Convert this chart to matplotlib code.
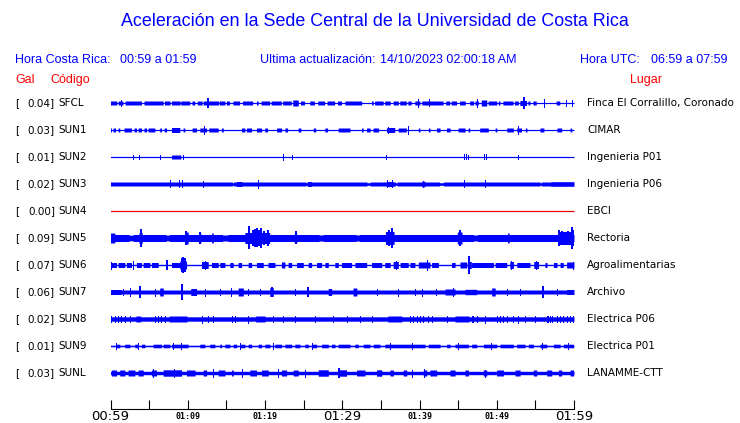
import numpy as np
import matplotlib
matplotlib.use("Agg")
import matplotlib.pyplot as plt

# station list, top to bottom
codes = ["SFCL", "SUN1", "SUN2", "SUN3", "SUN4", "SUN5", "SUN6", "SUN7", "SUN8", "SUN9", "SUNL"]
gal = [0.04, 0.03, 0.01, 0.02, 0.00, 0.09, 0.07, 0.06, 0.02, 0.01, 0.03]
places = ["Finca El Corralillo, Coronado", "CIMAR", "Ingenieria P01", "Ingenieria P06", "EBCI",
          "Rectoria", "Agroalimentarias", "Archivo", "Electrica P06", "Electrica P01", "LANAMME-CTT"]

# trace envelopes (minutes after 00:59, half height in px)
# base = quiet level, seg = (t0, t1, h) stretches, spk = (t, h) single spikes
sfcl_base = 0.6
sfcl_seg = [(0, 0.8, 2), (1.0, 1.6, 2), (1.9, 4.0, 2), (4.35, 6.8, 2), (7.0, 7.7, 2), (7.9, 9.0, 2),
            (9.1, 10.25, 2), (10.55, 10.9, 2), (11.25, 11.85, 2), (12.0, 14.0, 2), (14.1, 14.8, 2),
            (15.0, 15.4, 2), (15.85, 16.7, 2), (17.1, 18.4, 2), (18.9, 19.1, 2), (19.5, 20.6, 2),
            (20.8, 22.1, 2), (22.3, 23.4, 2), (23.6, 24.3, 3), (24.6, 25.1, 2), (25.8, 26.4, 2),
            (26.85, 27.7, 2), (28.05, 29.0, 2), (29.4, 29.9, 2), (30.35, 32.5, 2), (33.8, 34.0, 2),
            (34.2, 35.3, 2), (35.5, 36.2, 2), (36.6, 37.25, 2), (37.45, 38.3, 2), (38.5, 38.9, 2),
            (39.4, 40.05, 2), (40.3, 43.05, 2), (43.4, 43.9, 2), (44.1, 44.8, 2), (45.2, 45.9, 2),
            (46.5, 47.0, 2), (47.2, 47.6, 2), (48.0, 48.7, 3), (48.9, 50.0, 2), (50.2, 50.4, 2),
            (50.8, 52.1, 2), (52.3, 52.8, 2), (53.0, 53.85, 2.5), (54.05, 54.3, 2), (54.7, 55.1, 2),
            (57.7, 58.15, 2)]
sfcl_spk = [(1.3, 3), (12.6, 5), (39.8, 4), (41.25, 3.5), (47.4, 4), (53.55, 6), (56.1, 4),
            (59.0, 3), (59.75, 3)]

sun1_base = 0.6
sun1_seg = [(0, 0.12, 2), (0.34, 0.64, 2), (0.99, 1.2, 2), (1.76, 2.71, 2), (3.06, 3.36, 2),
            (3.58, 4.01, 2), (4.35, 4.66, 2), (4.87, 5.74, 2), (6.38, 6.6, 2), (6.95, 7.25, 2),
            (7.9, 8.97, 2.5), (9.4, 9.62, 2), (10.57, 11.13, 2), (11.57, 12.43, 2), (12.73, 13.94, 2),
            (14.37, 14.59, 2), (16.96, 17.4, 2), (17.61, 18.26, 2), (18.9, 19.55, 2), (19.98, 20.33, 2),
            (21.5, 22.14, 2), (22.58, 22.92, 2), (24.3, 24.65, 2), (26.25, 26.55, 2), (27.76, 28.1, 2),
            (29.48, 31.0, 2), (32.5, 32.7, 2), (33.15, 33.6, 2), (34.0, 34.7, 2), (35.75, 36.8, 2.5),
            (37.25, 38.3, 2), (39.85, 40.05, 2), (41.15, 41.35, 2), (42.2, 42.65, 2), (43.5, 43.95, 2),
            (45.0, 45.9, 2), (46.3, 46.5, 2), (47.8, 48.9, 2), (49.8, 50.0, 2), (51.3, 52.15, 2),
            (52.6, 53.2, 2), (53.7, 53.9, 2), (55.6, 56.1, 2), (57.8, 58.4, 2), (59.5, 59.7, 2)]
sun1_spk = [(12.13, 4), (35.9, 3), (38.45, 4), (52.8, 4)]

sun2_base = 0.6
sun2_seg = [(7.9, 9.1, 2)]
sun2_spk = [(2.93, 2), (3.7, 2), (6.4, 2), (9.4, 2), (22.36, 3), (23.5, 2), (35.66, 2), (45.7, 2.5),
            (46.0, 2.5), (46.3, 2), (48.4, 2.5), (48.6, 2.5), (52.8, 2)]

sun3_base = 2
sun3_seg = [(15.8, 15.95, 1.3), (16.3, 17.0, 2.5), (25.3, 25.45, 1.3), (25.5, 26.0, 2.5),
            (33.2, 33.6, 1.3), (35.7, 36.6, 2.5), (36.9, 37.1, 1.3), (40.3, 40.7, 2.8),
            (42.6, 43.1, 1.3), (55.6, 55.8, 1.3), (57.0, 60.0, 2.3)]
sun3_spk = [(7.7, 3.5), (8.85, 3.5), (9.3, 3.5), (12.0, 3), (19.04, 4), (35.8, 3.5), (36.5, 3.5),
            (40.5, 3), (45.7, 3.5), (48.5, 3.5)]

sun4_base = 0.6
sun4_seg = []
sun4_spk = []

sun5_base = 3.5
sun5_seg = [(0, 0.55, 5), (2.4, 2.9, 2.8), (3.7, 4.1, 5.5), (7.2, 7.6, 2.8), (9.6, 10.05, 6),
            (11.4, 11.7, 5), (13.1, 13.3, 5), (14.5, 15.2, 3), (17.4, 20.6, 5.5), (23.8, 24.1, 5),
            (27.0, 27.5, 3), (31.8, 32.2, 3), (35.6, 36.7, 6.5), (44.9, 45.5, 6), (47.0, 47.5, 3),
            (51.4, 51.6, 5), (57.9, 59.9, 6.5)]
sun5_spk = [(3.9, 9), (9.8, 7), (11.6, 6), (17.96, 11.5), (18.5, 8), (18.7, 9), (18.9, 9.5),
            (19.2, 8), (19.47, 10), (19.9, 7), (20.33, 8), (23.96, 6.5), (36.1, 8), (36.4, 10),
            (45.2, 8), (58.1, 8), (58.5, 7), (59.2, 7), (59.7, 11), (59.95, 8)]

sun6_base = 0.7
sun6_seg = [(0, 0.77, 2.5), (0.99, 1.85, 2.5), (2.07, 2.71, 2.5), (3.36, 4.0, 2.5), (4.23, 5.09, 2.5),
            (5.3, 6.17, 2.5), (7.9, 8.97, 2.5), (8.97, 9.84, 4), (11.78, 12.64, 3.5), (13.08, 13.94, 2.5),
            (14.16, 14.8, 2.5), (15.45, 15.88, 2.5), (16.53, 16.96, 2.5), (17.83, 18.26, 2.5),
            (18.9, 19.77, 2.5), (20.4, 21.28, 2.5), (22.14, 22.58, 3), (23.0, 23.44, 2.5),
            (24.09, 24.95, 2.5), (25.6, 26.03, 2.5), (26.68, 27.33, 2.5), (27.76, 28.19, 2.5),
            (29.05, 29.48, 2.5), (29.9, 31.2, 2.5), (31.65, 33.15, 2.5), (33.8, 35.1, 2.5),
            (35.5, 36.2, 2.5), (36.6, 37.25, 3.5), (37.5, 38.55, 2.5), (38.77, 39.4, 2.5),
            (39.85, 41.35, 3), (41.57, 42.44, 2.5), (44.16, 44.6, 2.5), (45.25, 46.1, 3),
            (46.2, 46.7, 3.5), (46.75, 49.56, 2.5), (49.8, 51.3, 2.5), (51.7, 52.15, 3.5),
            (52.6, 54.3, 2.5), (54.8, 55.4, 3.5), (56.25, 56.5, 2.5), (57.35, 57.8, 2.5),
            (58.2, 58.6, 2.5), (59.05, 60.0, 3)]
sun6_spk = [(0.05, 3.5), (2.93, 4), (7.33, 5), (9.2, 7), (9.4, 8), (9.6, 7), (12.2, 4), (36.9, 4),
            (41.0, 4.5), (46.45, 9.3), (51.9, 4), (55.1, 4), (59.9, 3.5)]

sun7_base = 2
sun7_seg = [(0, 1.4, 2.5), (6.38, 6.82, 4), (10.4, 11.13, 3.5), (16.53, 17.18, 4), (20.63, 21.06, 4.5),
            (28.19, 28.62, 3.5), (31.4, 31.9, 4), (43.3, 44.6, 3), (45.9, 47.4, 2.7), (49.35, 49.8, 4),
            (59.05, 60.0, 2.5)]
sun7_spk = [(1.63, 3), (2.5, 4), (3.88, 6), (5.74, 3.5), (9.28, 8), (12.2, 3.5), (14.16, 3), (15.58, 4),
            (17.83, 3), (19.34, 3), (20.85, 5), (23.87, 3), (25.6, 5), (34.45, 3), (37.25, 3.5),
            (39.4, 3), (40.3, 3.5), (42.2, 3), (44.4, 4), (51.3, 3), (53.0, 3), (56.04, 6), (57.8, 3)]

sun8_base = 2.2
sun8_seg = [(3.3, 3.9, 3), (7.6, 9.9, 3), (18.8, 20.0, 3), (35.9, 37.7, 3), (44.6, 46.4, 3)]
sun8_spk = [(0.12, 3), (0.56, 3), (0.99, 3), (1.33, 3), (1.85, 3), (2.5, 3), (5.74, 3), (6.17, 3),
            (6.6, 3), (7.03, 3), (11.78, 3.5), (12.64, 3), (13.29, 3), (15.67, 3), (16.1, 3),
            (17.83, 3.5), (21.06, 3), (22.36, 3), (23.87, 3), (26.46, 3), (28.84, 3), (30.56, 3),
            (32.29, 3), (33.8, 3), (38.77, 3), (39.2, 3), (39.63, 3), (40.06, 3), (40.49, 3),
            (41.14, 3), (41.57, 3), (43.52, 3), (46.76, 3), (46.97, 3), (47.4, 3), (48.48, 3.5),
            (49.99, 3), (50.43, 3), (50.86, 3), (51.29, 3), (52.15, 3), (52.8, 3.5), (53.66, 3),
            (54.96, 3), (56.47, 3), (56.69, 3), (56.9, 3), (57.12, 3), (57.77, 3), (58.2, 3),
            (58.63, 3), (59.07, 3), (59.5, 3), (59.93, 3)]

sun9_base = 0.8
sun9_seg = [(0.77, 1.2, 1.8), (1.85, 2.5, 1.8), (3.15, 3.58, 1.8), (4.01, 4.44, 1.8), (5.52, 6.6, 1.8),
            (6.82, 7.68, 1.8), (7.9, 10.05, 1.8), (11.57, 12.21, 1.8), (12.86, 13.51, 1.8),
            (14.16, 14.37, 1.8), (14.8, 15.45, 1.8), (15.88, 16.32, 1.8), (16.75, 17.4, 1.8),
            (17.83, 18.26, 1.8), (19.12, 19.55, 1.8), (19.98, 20.63, 1.8), (21.28, 22.14, 1.8),
            (22.58, 23.44, 1.8), (23.87, 24.52, 1.8), (25.17, 25.6, 1.8), (26.03, 26.68, 1.8),
            (27.33, 28.19, 1.8), (28.62, 29.05, 1.8), (29.48, 31.0, 1.8), (31.64, 32.07, 1.8),
            (32.72, 33.59, 1.8), (34.02, 34.88, 1.8), (35.53, 40.71, 1.8), (41.14, 42.65, 1.8),
            (43.52, 43.95, 1.8), (44.6, 46.32, 1.8), (46.76, 47.4, 1.8), (48.27, 49.99, 1.8),
            (50.43, 52.15, 1.8), (52.58, 53.66, 1.8), (54.1, 54.74, 1.8), (55.61, 56.47, 1.8),
            (57.33, 58.2, 1.8), (58.63, 59.93, 1.8)]
sun9_spk = [(0.77, 2.5), (3.58, 2.5), (8.11, 2.5), (9.19, 2.5), (16.75, 2.5), (21.06, 2.5),
            (26.03, 2.5), (36.2, 2.5), (39.0, 2.5), (45.0, 2.5), (49.2, 2.5), (55.9, 2.5), (59.2, 2.5)]

sunl_base = 1.7
sunl_seg = [(0.12, 0.77, 3), (1.2, 1.85, 3), (2.28, 3.15, 3), (3.58, 4.23, 3), (5.3, 5.95, 3),
            (6.82, 9.19, 3.2), (9.84, 10.93, 3), (12.0, 12.43, 3), (13.94, 14.8, 3), (15.67, 15.88, 3),
            (18.04, 18.9, 3), (19.55, 20.42, 3), (22.14, 22.79, 3), (23.66, 24.3, 3), (26.89, 28.19, 3.2),
            (29.48, 30.56, 3.2), (31.86, 32.94, 3), (34.45, 35.1, 3.2), (36.18, 36.61, 3),
            (37.9, 38.34, 3), (40.49, 40.93, 3), (41.36, 42.22, 3), (43.95, 44.6, 3), (45.89, 46.32, 3),
            (48.27, 48.7, 3), (49.99, 50.86, 3), (52.37, 53.02, 3), (54.74, 55.17, 3),
            (56.47, 57.12, 3), (57.98, 58.41, 3), (59.5, 59.93, 3)]
sunl_spk = [(5.52, 4), (8.24, 4), (13.29, 4), (16.96, 4), (21.71, 4), (25.17, 3.5), (29.61, 5),
            (38.98, 3.5), (40.62, 4.5), (48.48, 3.5)]

bases = [sfcl_base, sun1_base, sun2_base, sun3_base, sun4_base, sun5_base, sun6_base,
         sun7_base, sun8_base, sun9_base, sunl_base]
segs = [sfcl_seg, sun1_seg, sun2_seg, sun3_seg, sun4_seg, sun5_seg, sun6_seg,
        sun7_seg, sun8_seg, sun9_seg, sunl_seg]
spikes = [sfcl_spk, sun1_spk, sun2_spk, sun3_spk, sun4_spk, sun5_spk, sun6_spk,
          sun7_spk, sun8_spk, sun9_spk, sunl_spk]
colors = ["#0000ff"] * 11
colors[4] = "#ee0000"

BLUE = "#0000ff"
RED = "#ff0000"
W, H = 740, 423
ROW = 27.0  # px between traces
SANS = "Liberation Sans"


def fx(px):
    return px / W


def fy(py):
    return 1 - py / H


fig = plt.figure(figsize=(W / 100, H / 100), dpi=100)

# header texts
fig.text(fx(375), fy(22), "Aceleración en la Sede Central de la Universidad de Costa Rica",
         ha="center", va="center", color=BLUE, fontsize=12.9, family=SANS)
fig.text(fx(15), fy(60), "Hora Costa Rica:", ha="left", va="center", color=BLUE, fontsize=9, family=SANS)
fig.text(fx(120), fy(60), "00:59 a 01:59", ha="left", va="center", color=BLUE, fontsize=9, family=SANS)
fig.text(fx(260), fy(60), "Ultima actualización:", ha="left", va="center", color=BLUE, fontsize=9, family=SANS)
fig.text(fx(380), fy(60), "14/10/2023 02:00:18 AM", ha="left", va="center", color=BLUE, fontsize=9, family=SANS)
fig.text(fx(580), fy(60), "Hora UTC:", ha="left", va="center", color=BLUE, fontsize=9, family=SANS)
fig.text(fx(651), fy(60), "06:59 a 07:59", ha="left", va="center", color=BLUE, fontsize=9, family=SANS)
fig.text(fx(15), fy(80), "Gal", ha="left", va="center", color=RED, fontsize=9, family=SANS)
fig.text(fx(50), fy(80), "Código", ha="left", va="center", color=RED, fontsize=9, family=SANS)
fig.text(fx(630), fy(80), "Lugar", ha="left", va="center", color=RED, fontsize=9, family=SANS)

# trace axes: bottom spine at y=409px, first trace centred at y=103px
y0, ybot, ytop = 103, 409, 89.5
ax = fig.add_axes([fx(110.5), fy(ybot), (574 - 110.5) / W, (ybot - ytop) / H])
ax.set_xlim(0, 60)
ax.set_ylim((ybot - y0) / ROW, (ytop - y0) / ROW)

t = np.linspace(0, 60, 6001)
for i in range(len(codes)):
    env = np.full_like(t, bases[i])
    for t0, t1, h in segs[i]:
        env[(t >= t0) & (t <= t1)] = h
    ax.fill_between(t, i - env / ROW, i + env / ROW, color=colors[i], lw=0, antialiased=False)
    if spikes[i]:
        st = np.array([s[0] for s in spikes[i]])
        sh = np.array([s[1] for s in spikes[i]])
        big = sh >= 5
        # larger bursts are a couple of pixels wide, small ones a single pixel
        ax.vlines(st[~big], i - sh[~big] / ROW, i + sh[~big] / ROW, color=colors[i], lw=0.72,
                  antialiased=False)
        ax.vlines(st[big], i - sh[big] / ROW, i + sh[big] / ROW, color=colors[i], lw=1.44,
                  antialiased=False)

    yy = fy(y0 + ROW * i)
    fig.text(fx(15), yy, "[", ha="left", va="center", fontsize=7.5)
    fig.text(fx(55), yy, f"{gal[i]:.2f}]", ha="right", va="center", fontsize=7.5)
    fig.text(fx(58), yy, codes[i], ha="left", va="center", fontsize=7.5)
    fig.text(fx(587), yy, places[i], ha="left", va="center", fontsize=7.5)

for s in ["top", "left", "right"]:
    ax.spines[s].set_visible(False)
ax.spines["bottom"].set_linewidth(0.8)
ax.set_yticks([])

ax.set_xticks([0, 30, 60])
ax.set_xticklabels(["00:59", "01:29", "01:59"], fontsize=9.5)
ax.set_xticks(np.arange(5, 60, 5), minor=True)
ax.set_xticklabels(["", "01:09", "", "01:19", "", "", "", "01:39", "", "01:49", ""], minor=True,
                   fontsize=6, family="DejaVu Sans Mono", fontweight="bold")
ax.tick_params(axis="x", which="both", direction="in", length=6.5, width=0.8, pad=1)
ax.tick_params(axis="x", which="minor", pad=2)

fig.savefig("out.png", dpi=100)
